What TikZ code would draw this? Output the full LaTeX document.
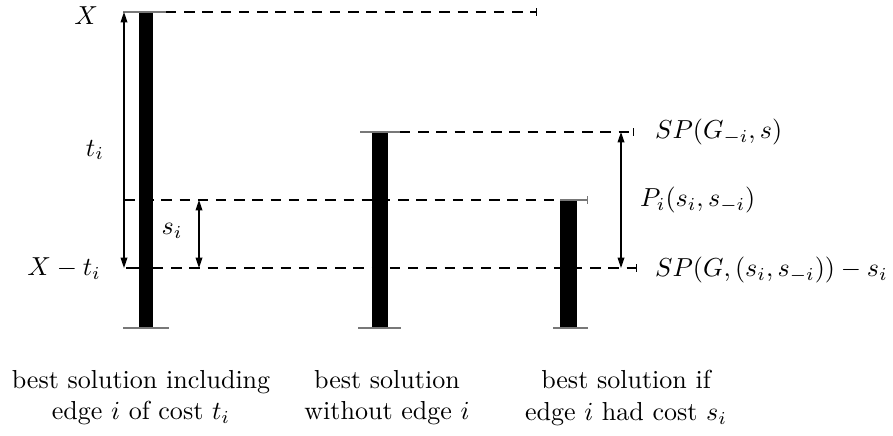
\documentclass[tikz,border=0pt]{standalone}
\usepackage{amsmath,amssymb}
\usepackage{xcolor}
\usetikzlibrary{arrows.meta,calc,positioning}
\definecolor{capgrey}{RGB}{120,120,120}
\tikzset{
  bar/.style={fill=black,draw=none},
  capline/.style={draw=capgrey,line width=0.5pt},
  level/.style={draw=black,line width=0.45pt,dash pattern=on 4pt off 3pt},
  levelend/.style={level,-{Bar[width=3pt]}},
  gap/.style={{Triangle[length=4pt,width=2.6pt]}-{Triangle[length=4pt,width=2.6pt]},line width=0.45pt},
  mathlabel/.style={inner sep=1pt},
  caption/.style={align=center,inner sep=1pt}
}

\begin{document}
\begin{tikzpicture}[x=0.0135cm,y=-0.0135cm]
  \useasboundingbox (0,0) rectangle (893,436);
  % levels
  \coordinate (topL) at (166,12);
  \coordinate (topR) at (537,12);
  \coordinate (spL) at (400,132);
  \coordinate (spR) at (634,132);
  \coordinate (midL) at (124,200);
  \coordinate (midR) at (560,200);
  \coordinate (lowL) at (153,268);
  \coordinate (lowR) at (637,268);
  \coordinate (tiT) at (124,12);
  \coordinate (tiB) at (124,268);
  \coordinate (siT) at (199,200);
  \coordinate (siB) at (199,268);
  \coordinate (piT) at (621,132);
  \coordinate (piB) at (621,268);
  % bars
  \path[bar] (139,12) rectangle (153,328);
  \path[bar] (372,132) rectangle (388,328);
  \path[bar] (560,200) rectangle (577,328);
  \draw[capline] (123,12) -- (topL);
  \draw[capline] (123,328) -- (169,328);
  \draw[capline] (360,132) -- (spL);
  \draw[capline] (358,328) -- (401,328);
  \draw[capline,-{Bar[width=3pt]}] (midR) -- (588,200);
  \draw[capline] (553,328) -- (588,328);
  \draw[line width=0.45pt] (126,268) -- (139,268);
  % dashed levels
  \draw[levelend] (topL) -- (topR);
  \draw[levelend] (spL) -- (spR);
  \draw[level,{Bar[width=3pt]}-] (midL) -- (midR);
  \draw[levelend] (lowL) -- (lowR);
  % differences
  \draw[gap] (tiT) -- (tiB);
  \draw[gap] (siT) -- (siB);
  \draw[gap] (piT) -- (piB);
  % labels
  \node[mathlabel,anchor=east] (lblX) at (101,16) {$X$};
  \node[mathlabel,anchor=east] (lblXt) at (104,269) {$X-t_i$};
  \node[mathlabel] (lblti) at (95,150) {$t_i$};
  \node[mathlabel] (lblsi) at (172,231) {$s_i$};
  \node[mathlabel,anchor=west] (lblspm) at (652,132) {$SP(G_{-i},s)$};
  \node[mathlabel,anchor=west] (lblpi) at (637,200) {$P_i(s_i,s_{-i})$};
  \node[mathlabel,anchor=west] (lblsp) at (652,270) {$SP(G,(s_i,s_{-i}))-s_i$};
  % captions
  \node[caption] (capA) at (141,398) {best solution including\\edge $i$ of cost $t_i$};
  \node[caption] (capB) at (387,398) {best solution\\without edge $i$};
  \node[caption] (capC) at (626,398) {best solution if\\edge $i$ had cost $s_i$};
\end{tikzpicture}
\end{document}
